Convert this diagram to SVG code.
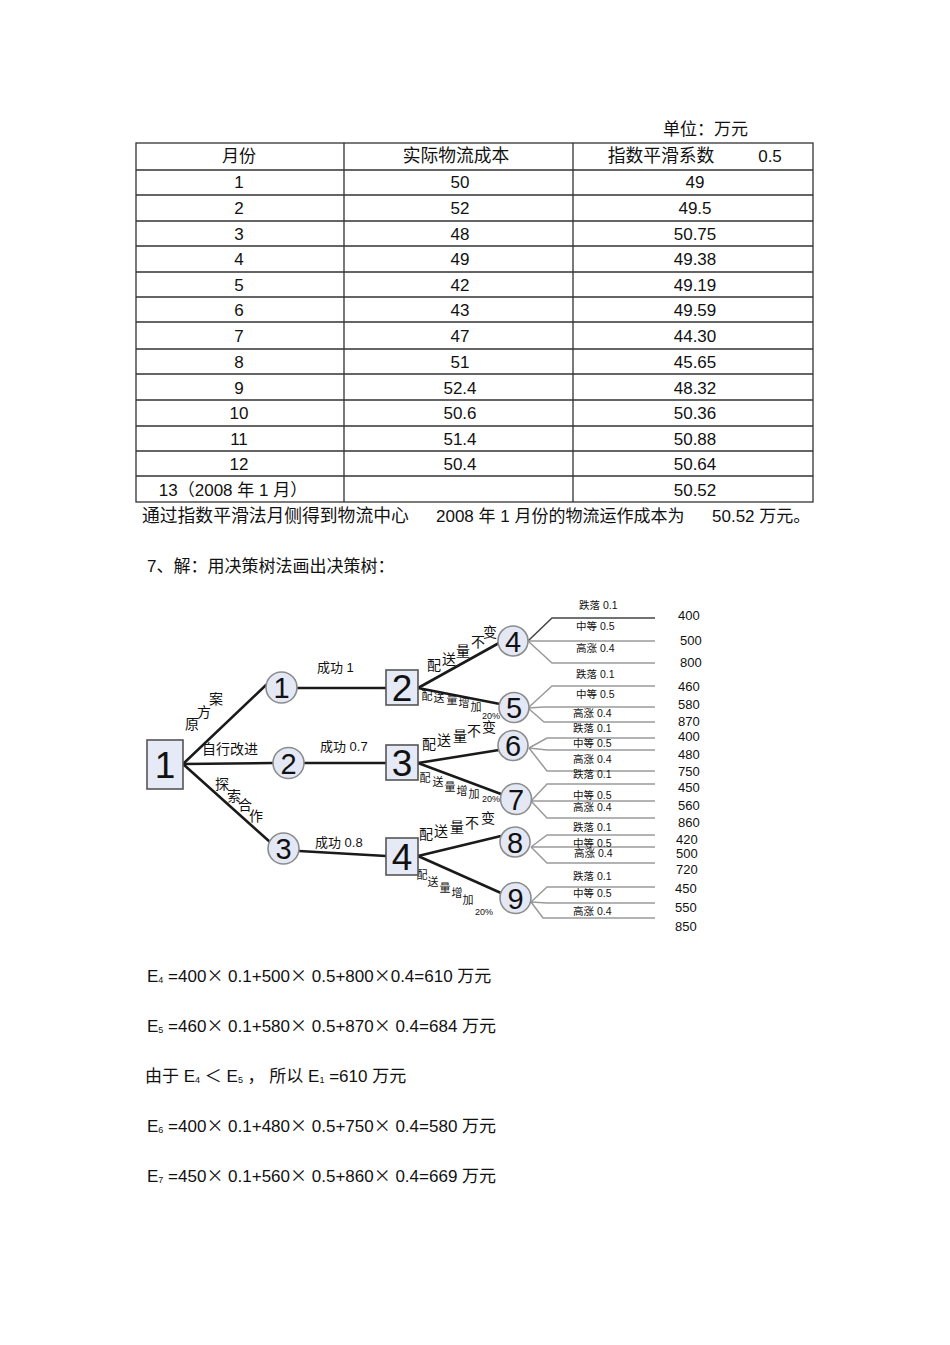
<svg xmlns="http://www.w3.org/2000/svg" width="950" height="1345" viewBox="0 0 950 1345">
<style>
text{font-family:"Liberation Sans","Noto Sans CJK SC",sans-serif;fill:#111}
.t{font-size:17px}
.c{text-anchor:middle}
.g{stroke:#333;stroke-width:1.3;fill:none}
.br{stroke:#1a1a1a;stroke-width:2.6;fill:none;stroke-linecap:round}
.oc{stroke:#9a9a9a;stroke-width:1.5;fill:none}
.circ{fill:#e4e8f5;stroke:#8c8c8c;stroke-width:1.6}
.sq{fill:#e6e9f6;stroke:#555;stroke-width:1.6}
.cn{font-size:29px;text-anchor:middle}
.sn{font-size:37px;text-anchor:middle}
.lb{font-size:13px}
.bl{font-size:14px;text-anchor:middle;dominant-baseline:central}
.bs{font-size:11px;text-anchor:middle;dominant-baseline:central}
.ol{font-size:10.5px}
.v{font-size:13px}
.sub{font-size:9px}
.x{font-family:"Noto Sans CJK SC",sans-serif}
.cj{font-size:17.8px}
</style>
<rect width="950" height="1345" fill="#fff"/>

<g id="table">
<text class="t" x="663" y="135">单位：万元</text>
<rect class="g" x="136" y="143" width="677" height="359"/>
<path class="g" d="M344 143V502M573 143V502M136 170H813M136 195H813M136 221H813M136 246H813M136 272H813M136 297H813M136 322H813M136 349H813M136 374H813M136 400H813M136 426H813M136 451H813M136 476H813"/>
<g class="t">
<text class="c" x="239" y="162">月份</text>
<text class="c cj" x="456" y="162">实际物流成本</text>
<text class="c cj" x="661" y="162">指数平滑系数</text>
<text class="c" x="770" y="162">0.5</text>

<text class="c" x="239" y="188">1</text><text class="c" x="460" y="188">50</text><text class="c" x="695" y="188">49</text>
<text class="c" x="239" y="214">2</text><text class="c" x="460" y="214">52</text><text class="c" x="695" y="214">49.5</text>
<text class="c" x="239" y="240">3</text><text class="c" x="460" y="240">48</text><text class="c" x="695" y="240">50.75</text>
<text class="c" x="239" y="265">4</text><text class="c" x="460" y="265">49</text><text class="c" x="695" y="265">49.38</text>
<text class="c" x="239" y="291">5</text><text class="c" x="460" y="291">42</text><text class="c" x="695" y="291">49.19</text>
<text class="c" x="239" y="316">6</text><text class="c" x="460" y="316">43</text><text class="c" x="695" y="316">49.59</text>
<text class="c" x="239" y="342">7</text><text class="c" x="460" y="342">47</text><text class="c" x="695" y="342">44.30</text>
<text class="c" x="239" y="368">8</text><text class="c" x="460" y="368">51</text><text class="c" x="695" y="368">45.65</text>
<text class="c" x="239" y="394">9</text><text class="c" x="460" y="394">52.4</text><text class="c" x="695" y="394">48.32</text>
<text class="c" x="239" y="419">10</text><text class="c" x="460" y="419">50.6</text><text class="c" x="695" y="419">50.36</text>
<text class="c" x="239" y="445">11</text><text class="c" x="460" y="445">51.4</text><text class="c" x="695" y="445">50.88</text>
<text class="c" x="239" y="470">12</text><text class="c" x="460" y="470">50.4</text><text class="c" x="695" y="470">50.64</text>
<text class="c" x="233" y="496">13（2008 年 1 月）</text><text class="c" x="695" y="496">50.52</text>
</g>
</g>

<g id="sentence">
<text class="t cj" x="142" y="522">通过指数平滑法月侧得到物流中心</text>
<text class="t" x="436" y="522">2008 年 1 月份的物流运作成本为</text>
<text class="t" x="712" y="522">50.52 万元。</text>
<text class="t" x="147" y="572">7、解：用决策树法画出决策树：</text>
</g>

<g id="connectors">
<path class="br" d="M183 764L266 685"/>
<path class="br" d="M183 764L273 763"/>
<path class="br" d="M183 764L270 842"/>
<path class="br" d="M297 688H386"/>
<path class="br" d="M304 763H386"/>
<path class="br" d="M299 851L386 856"/>
<path class="br" d="M418 688L499 643"/>
<path class="br" d="M418 688L500 704"/>
<path class="br" d="M418 763L499 750"/>
<path class="br" d="M418 763L501 794"/>
<path class="br" d="M418 856L501 836"/>
<path class="br" d="M418 856L501 893"/>

<path class="oc" style="stroke:#444" d="M528 641L552 618H655"/>
<path class="oc" d="M528 641H655M528 641L552 663H655"/>
<path class="oc" d="M528 708L552 686H655M528 708L544 707H655M528 708L544 722H655"/>
<path class="oc" d="M529 748L547 738H655M529 748L547 750H655M529 748L547 771H655"/>
<path class="oc" d="M531 801L547 784H655M531 801H655M531 801L547 818H655"/>
<path class="oc" d="M531 847L547 835H655M531 847H655M531 847L547 863H655"/>
<path class="oc" d="M531 902L547 887H655M531 902L547 903H655M531 902L543 918H655"/>
</g>

<g id="branch-labels">
<text class="bl" x="192" y="724">原</text><text class="bl" x="204" y="712">方</text><text class="bl" x="216" y="699">案</text>
<text class="lb" x="202" y="754" style="font-size:14px">自行改进</text>
<text class="bl" x="222" y="784">探</text><text class="bl" x="234" y="796">索</text><text class="bl" x="245" y="805">合</text><text class="bl" x="256" y="816">作</text>
<text class="lb" x="317" y="672">成功 1</text>
<text class="lb" x="320" y="751">成功 0.7</text>
<text class="lb" x="315" y="847">成功 0.8</text>

<text class="bl" x="434" y="665">配</text><text class="bl" x="449" y="659">送</text><text class="bl" x="463" y="651">量</text><text class="bl" x="478" y="642">不</text><text class="bl" x="490" y="632">变</text>
<text class="bs" x="427" y="696">配</text><text class="bs" x="439" y="698">送</text><text class="bs" x="452" y="700">量</text><text class="bs" x="464" y="703">增</text><text class="bs" x="476" y="707">加</text><text class="bs" x="491" y="716" style="font-size:9px">20%</text>

<text class="bl" x="429" y="744">配</text><text class="bl" x="444" y="740">送</text><text class="bl" x="460" y="736">量</text><text class="bl" x="474" y="731">不</text><text class="bl" x="489" y="727">变</text>
<text class="bs" x="425" y="778">配</text><text class="bs" x="438" y="782">送</text><text class="bs" x="450" y="787">量</text><text class="bs" x="462" y="791">增</text><text class="bs" x="474" y="794">加</text><text class="bs" x="491" y="799" style="font-size:9px">20%</text>

<text class="bl" x="426" y="834">配</text><text class="bl" x="441" y="831">送</text><text class="bl" x="457" y="827">量</text><text class="bl" x="472" y="823">不</text><text class="bl" x="488" y="818">变</text>
<text class="bs" x="422" y="875">配</text><text class="bs" x="433" y="882">送</text><text class="bs" x="445" y="888">量</text><text class="bs" x="457" y="893">增</text><text class="bs" x="468" y="900">加</text><text class="bs" x="484" y="912" style="font-size:9px">20%</text>
</g>

<g id="outcome-labels">
<text class="ol" x="579" y="609">跌落 0.1</text><text class="ol" x="576" y="630">中等 0.5</text><text class="ol" x="576" y="652">高涨 0.4</text>
<text class="ol" x="576" y="678">跌落 0.1</text><text class="ol" x="576" y="698">中等 0.5</text><text class="ol" x="573" y="717">高涨 0.4</text>
<text class="ol" x="573" y="732">跌落 0.1</text><text class="ol" x="573" y="747">中等 0.5</text><text class="ol" x="573" y="763">高涨 0.4</text>
<text class="ol" x="573" y="778">跌落 0.1</text><text class="ol" x="573" y="799">中等 0.5</text><text class="ol" x="573" y="811">高涨 0.4</text>
<text class="ol" x="573" y="831">跌落 0.1</text><text class="ol" x="573" y="847">中等 0.5</text><text class="ol" x="574" y="857">高涨 0.4</text>
<text class="ol" x="573" y="880">跌落 0.1</text><text class="ol" x="573" y="897">中等 0.5</text><text class="ol" x="573" y="915">高涨 0.4</text>
</g>

<g id="values" class="v">
<text class="v" x="678" y="620">400</text><text class="v" x="680" y="645">500</text><text class="v" x="680" y="667">800</text>
<text class="v" x="678" y="691">460</text><text class="v" x="678" y="709">580</text><text class="v" x="678" y="726">870</text>
<text class="v" x="678" y="741">400</text><text class="v" x="678" y="759">480</text><text class="v" x="678" y="776">750</text>
<text class="v" x="678" y="792">450</text><text class="v" x="678" y="810">560</text><text class="v" x="678" y="827">860</text>
<text class="v" x="676" y="844">420</text><text class="v" x="676" y="858">500</text><text class="v" x="676" y="874">720</text>
<text class="v" x="675" y="893">450</text><text class="v" x="675" y="912">550</text><text class="v" x="675" y="931">850</text>
</g>

<g id="node-d1"><rect class="sq" x="147" y="740" width="36" height="49"/><text class="sn" x="165" y="778">1</text></g>
<g id="node-c1"><circle class="circ" cx="281.5" cy="687.5" r="15.5"/><text class="cn" x="281.5" y="698">1</text></g>
<g id="node-c2"><circle class="circ" cx="288.5" cy="763" r="15.5"/><text class="cn" x="288.5" y="773.5">2</text></g>
<g id="node-c3"><circle class="circ" cx="283.5" cy="848.5" r="15.5"/><text class="cn" x="283.5" y="859">3</text></g>
<g id="node-d2"><rect class="sq" x="386" y="670" width="32" height="35"/><text class="sn" x="402" y="701">2</text></g>
<g id="node-d3"><rect class="sq" x="386" y="745" width="32" height="35"/><text class="sn" x="402" y="776">3</text></g>
<g id="node-d4"><rect class="sq" x="386" y="838" width="32" height="37"/><text class="sn" x="402" y="870">4</text></g>
<g id="node-c4"><circle class="circ" cx="513" cy="641" r="15"/><text class="cn" x="513" y="651.5">4</text></g>
<g id="node-c5"><circle class="circ" cx="514" cy="707.5" r="15"/><text class="cn" x="514" y="718">5</text></g>
<g id="node-c6"><circle class="circ" cx="513" cy="745.5" r="15"/><text class="cn" x="513" y="756">6</text></g>
<g id="node-c7"><circle class="circ" cx="516" cy="799" r="15.5"/><text class="cn" x="516" y="809.5">7</text></g>
<g id="node-c8"><circle class="circ" cx="515" cy="842" r="15"/><text class="cn" x="515" y="852.5">8</text></g>
<g id="node-c9"><circle class="circ" cx="515.5" cy="898" r="15.5"/><text class="cn" x="515.5" y="908.5">9</text></g>

<g id="formulas" class="t">
<text class="t" x="147" y="982">E<tspan class="sub" dy="1">4</tspan><tspan dy="-1"> =400</tspan><tspan class="x">×</tspan> 0.1+500<tspan class="x">×</tspan> 0.5+800<tspan class="x">×</tspan>0.4=610 万元</text>
<text class="t" x="147" y="1032">E<tspan class="sub" dy="1">5</tspan><tspan dy="-1"> =460</tspan><tspan class="x">×</tspan> 0.1+580<tspan class="x">×</tspan> 0.5+870<tspan class="x">×</tspan> 0.4=684 万元</text>
<text class="t" x="145" y="1082">由于 E<tspan class="sub" dy="1">4</tspan><tspan dy="-1"> ＜ E</tspan><tspan class="sub" dy="1">5</tspan><tspan dy="-1"> ， 所以 E</tspan><tspan class="sub" dy="1">1</tspan><tspan dy="-1"> =610 万元</tspan></text>
<text class="t" x="147" y="1132">E<tspan class="sub" dy="1">6</tspan><tspan dy="-1"> =400</tspan><tspan class="x">×</tspan> 0.1+480<tspan class="x">×</tspan> 0.5+750<tspan class="x">×</tspan> 0.4=580 万元</text>
<text class="t" x="147" y="1182">E<tspan class="sub" dy="1">7</tspan><tspan dy="-1"> =450</tspan><tspan class="x">×</tspan> 0.1+560<tspan class="x">×</tspan> 0.5+860<tspan class="x">×</tspan> 0.4=669 万元</text>
</g>
</svg>
